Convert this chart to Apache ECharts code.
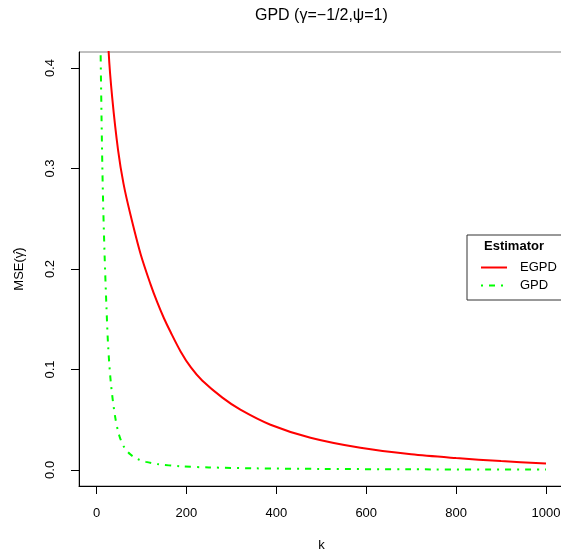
<!DOCTYPE html>
<html>
<head>
<meta charset="utf-8">
<script src="https://cdn.jsdelivr.net/npm/echarts@6/dist/echarts.min.js"></script>
<style>html,body{margin:0;padding:0;background:#fff;}#c{width:561px;height:554px;}</style>
</head>
<body>
<div id="c"></div>
<script>
var titleText = 'GPD (γ=−1/2,ψ=1)';
var xName = 'k';
var yName = 'MSE(γ̂)';
var legendTitle = 'Estimator';
var seriesNames = ['EGPD', 'GPD'];

var egpdK = [20, 27, 35, 48, 60, 75, 98, 120, 135, 150, 165, 187, 210, 235, 280, 320, 387, 476, 587, 700, 800, 900, 1000];
var egpdV = [0.50, 0.416, 0.37, 0.318, 0.285, 0.255, 0.215, 0.185, 0.167, 0.151, 0.137, 0.118, 0.102, 0.089, 0.072, 0.060, 0.045, 0.032, 0.022, 0.0155, 0.0118, 0.0088, 0.0065];

var gpdK = [7, 9, 11, 13, 15, 18, 22, 26, 32, 41, 50, 61, 75, 92, 110, 135, 187, 250, 350, 500, 700, 1000];
var gpdV = [0.52, 0.42, 0.355, 0.30, 0.26, 0.213, 0.163, 0.122, 0.086, 0.054, 0.035, 0.023, 0.0155, 0.0108, 0.008, 0.0058, 0.0036, 0.0025, 0.0016, 0.001, 0.0006, 0.0003];

var xTicks = [0, 200, 400, 600, 800, 1000];
var yTicks = [0.0, 0.1, 0.2, 0.3, 0.4];
var yTickLabels = ['0.0', '0.1', '0.2', '0.3', '0.4'];

function pairs(xs, ys) { return xs.map(function (x, i) { return [x, ys[i]]; }); }

var FONT = 'Liberation Sans, Arial, Helvetica, sans-serif';
var chart = echarts.init(document.getElementById('c'), null, {renderer: 'canvas'});
chart.setOption({
  backgroundColor: '#ffffff',
  animation: false,
  title: {
    text: titleText, left: 255, top: 8, padding: 0,
    textStyle: {fontFamily: FONT, fontSize: 16, fontWeight: 'normal', color: '#000'}
  },
  grid: {left: 79, top: 52, width: 485, height: 434, show: true, borderColor: '#808080', borderWidth: 1,
    backgroundColor: 'transparent', containLabel: false, outerBoundsMode: 'none'},
  xAxis: {
    type: 'value', min: -39, max: 1040,
    name: xName, nameLocation: 'middle', nameGap: 53,
    nameTextStyle: {fontFamily: FONT, fontSize: 13, color: '#000'},
    axisLine: {show: true, onZero: false, lineStyle: {color: '#000', width: 1}},
    axisTick: {show: true, length: 8, customValues: xTicks, lineStyle: {color: '#000'}},
    axisLabel: {customValues: xTicks, margin: 21, fontFamily: FONT, fontSize: 13, color: '#000',
      formatter: function (v) { return String(v); }},
    splitLine: {show: false}
  },
  yAxis: {
    type: 'value', min: -0.016, max: 0.416,
    name: yName, nameLocation: 'middle', nameGap: 53, nameRotate: 90,
    nameTextStyle: {fontFamily: FONT, fontSize: 13, color: '#000'},
    axisLine: {show: true, onZero: false, lineStyle: {color: '#000', width: 1}},
    axisTick: {show: true, length: 8, customValues: yTicks, lineStyle: {color: '#000'}},
    axisLabel: {customValues: yTicks, rotate: 90, margin: 22, fontFamily: FONT, fontSize: 13, color: '#000',
      formatter: function (v) { var i = yTicks.indexOf(Math.round(v * 10) / 10); return i >= 0 ? yTickLabels[i] : ''; }},
    splitLine: {show: false}
  },
  legend: {
    orient: 'vertical', left: 467, top: 235,
    data: seriesNames,
    borderColor: '#333', borderWidth: 1, borderRadius: 0,
    padding: [26, 6, 8, 13],
    itemWidth: 26, itemHeight: 14, itemGap: 5,
    itemStyle: {opacity: 0},
    textStyle: {fontFamily: FONT, fontSize: 13, color: '#000', padding: [0, 0, 0, 8]}
  },
  graphic: [{
    type: 'text', left: 484, top: 240,
    style: {text: legendTitle, fontFamily: FONT, fontSize: 13, fontWeight: 'bold', fill: '#000'}
  }],
  series: [{
    name: seriesNames[0], type: 'line', data: pairs(egpdK, egpdV),
    showSymbol: false, symbol: 'none', smooth: 0.3, clip: true,
    lineStyle: {color: '#ff0000', width: 2}, itemStyle: {color: '#ff0000'}
  }, {
    name: seriesNames[1], type: 'line', data: pairs(gpdK, gpdV),
    showSymbol: false, symbol: 'none', smooth: 0.3, clip: true,
    lineStyle: {color: '#00ff00', width: 2, type: [2, 6, 6, 6]}, itemStyle: {color: '#00ff00'}
  }]
});
</script>
</body>
</html>
